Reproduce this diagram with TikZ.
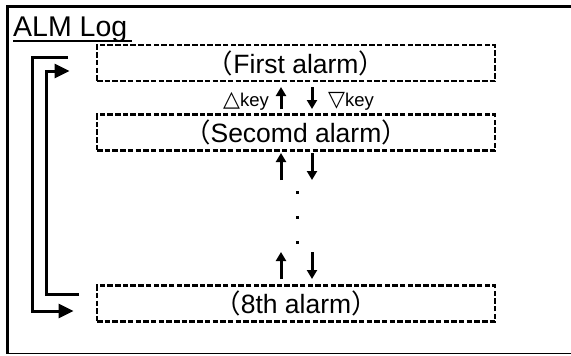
\documentclass[tikz,border=0pt]{standalone}
\usepackage{fontspec}
\setmainfont{Liberation Sans}
\newfontfamily\cjkfont{Noto Sans CJK JP}
\newfontfamily\symfont{DejaVu Sans}
\usetikzlibrary{arrows.meta}
\begin{document}
\begin{tikzpicture}[x=1pt,y=-1pt,
  alarmbox/.style={draw,line width=2.8pt,dash pattern=on 5.5pt off 2.2pt,minimum width=398pt,minimum height=36pt,inner sep=0pt,font=\fontsize{26.5}{26.5}\selectfont},
  keyarrow/.style={line width=3pt,-{Triangle[length=9pt,width=10pt]}},
  looparrow/.style={line width=3pt,-{Triangle[length=15pt,width=14pt]}},
  keylabel/.style={font=\fontsize{18.5}{18.5}\selectfont,inner sep=0pt}]
\useasboundingbox (0,0) rectangle (571,356);
% frame
\draw[line width=3pt] (7,353.5) -- (7,6) -- (580,6);
\draw[line width=1.6pt] (7,353.5) -- (580,353.5);
% title
\node[anchor=base west,inner sep=0pt,font=\fontsize{28.5}{28.5}\selectfont] (title) at (13,36) {ALM Log};
\draw[line width=2.8pt] (13,41) -- (132,41);
% boxes
\node[alarmbox] (b1) at (296,63) {{\cjkfont （}First alarm{\cjkfont ）}};
\node[alarmbox] (b2) at (296,132.5) {{\cjkfont （}Secomd alarm{\cjkfont ）}};
\node[alarmbox] (b3) at (296,303.5) {{\cjkfont （}8th alarm{\cjkfont ）}};
% key arrows
\coordinate (u1s) at (281,109); \coordinate (u1e) at (281,87);
\coordinate (d1s) at (312,87); \coordinate (d1e) at (312,109);
\draw[keyarrow] (u1s) -- (u1e);
\draw[keyarrow] (d1s) -- (d1e);
\node[keylabel,anchor=base east] (kup) at (269,106) {{\symfont\fontsize{22}{22}\selectfont △}key};
\node[keylabel,anchor=base west] (kdn) at (328,106) {{\symfont\fontsize{22}{22}\selectfont ▽}key};
\coordinate (u2s) at (281,180); \coordinate (u2e) at (281,153);
\coordinate (d2s) at (312,153); \coordinate (d2e) at (312,180);
\draw[keyarrow] (u2s) -- (u2e);
\draw[keyarrow] (d2s) -- (d2e);
\coordinate (u3s) at (281,279); \coordinate (u3e) at (281,252);
\coordinate (d3s) at (312,252); \coordinate (d3e) at (312,279);
\draw[keyarrow] (u3s) -- (u3e);
\draw[keyarrow] (d3s) -- (d3e);
% dots
\foreach \yy in {192,217,242} \fill (295.5,\yy-1.5) rectangle ++(3.4,3.4);
% loop arrows
\coordinate (o1) at (68,57); \coordinate (o2) at (32,57); \coordinate (o3) at (32,311);
\coordinate (o4) at ([xshift=-22pt]b3.west |- o3);
\draw[looparrow] (o1) -- (o2) -- (o3) -- (o4);
\coordinate (i1) at (79,294); \coordinate (i2) at (46,294); \coordinate (i3) at (46,71);
\coordinate (i4) at ([xshift=-26pt]b1.west |- i3);
\draw[looparrow] (i1) -- (i2) -- (i3) -- (i4);
\end{tikzpicture}
\end{document}
